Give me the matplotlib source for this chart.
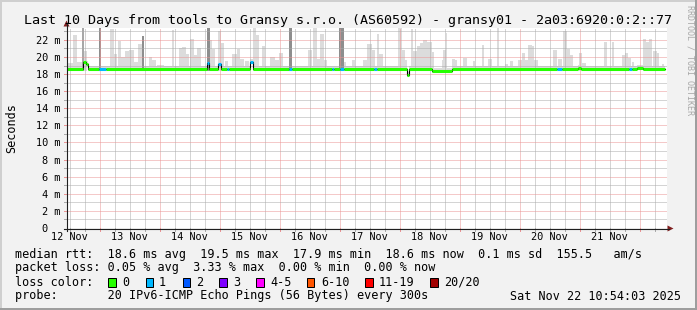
import matplotlib
matplotlib.use("Agg")
import matplotlib.pyplot as plt
import numpy as np
import pandas as pd
from matplotlib.patches import Rectangle, Polygon

# ---------------- data ----------------
window_start = pd.Timestamp("2025-11-12 10:54:03")
window_hours = 240.0
day_labels = ["12 Nov", "13 Nov", "14 Nov", "15 Nov", "16 Nov",
              "17 Nov", "18 Nov", "19 Nov", "20 Nov", "21 Nov"]
y_ticks = [0, 2, 4, 6, 8, 10, 12, 14, 16, 18, 20, 22]
y_tick_labels = ["0  ", "2 m", "4 m", "6 m", "8 m", "10 m", "12 m",
                 "14 m", "16 m", "18 m", "20 m", "22 m"]
y_max = 23.39

# median rtt (ms); hours since window start
median_base = 18.55
median_end = 239.0
median_seg_start = [6.4, 7.6, 12.8, 56.0, 60.4, 64.0, 73.2, 88.8, 106.0, 109.2,
                    122.8, 136.0, 146.0, 196.0, 204.4, 224.8, 228.0]
median_seg_end = [7.6, 8.4, 15.6, 56.8, 61.6, 64.8, 74.4, 90.0, 106.8, 110.8,
                  124.0, 136.8, 154.0, 198.0, 205.6, 226.0, 230.4]
median_seg_value = [19.45, 19.2, 18.55, 19.25, 19.2, 18.55, 19.45, 18.55, 18.55, 18.55,
                    18.55, 17.9, 18.35, 18.55, 18.7, 18.55, 18.75]
median_seg_loss = [0, 0, 1, 1, 1, 1, 1, 1, 1, 1, 1, 0, 0, 1, 0, 1, 0]

# smoke (ms)
smoke_floor = 18.35
smoke_band_below = 0.2
smoke_band_above = 0.35
spike_start = [0.4, 2.4, 4.0, 6.8, 17.2, 18.8, 20.4, 21.6, 23.2, 24.8, 26.8, 28.4, 32.8, 34.0,
               36.0, 42.0, 44.8, 46.0, 47.6, 49.2, 50.8, 52.0, 57.2, 58.0, 60.4, 61.6, 63.2,
               66.0, 68.0, 69.2, 71.2, 74.4, 75.6, 78.0, 81.2, 83.2, 84.8, 96.4, 98.4, 100.0,
               101.2, 102.8, 110.8, 114.0, 118.4, 120.0, 122.0, 124.0, 124.8, 128.0, 132.4,
               134.0, 135.2, 137.6, 138.4, 140.0, 141.2, 142.4, 144.0, 146.0, 150.0, 150.4,
               151.6, 154.0, 155.2, 157.2, 158.4, 162.4, 166.0, 168.4, 172.0, 175.2, 177.2,
               180.4, 182.0, 183.2, 184.4, 186.0, 186.8, 194.4, 196.4, 198.4, 200.0, 201.2,
               204.8, 206.0, 214.8, 218.0, 222.0, 223.2, 224.4, 226.0, 230.4, 231.6, 232.8,
               234.4, 236.0, 238.0]
spike_end = [2.4, 4.0, 6.0, 8.0, 18.8, 20.0, 21.6, 23.2, 24.8, 26.8, 28.4, 30.0, 34.0, 35.6,
             38.8, 42.8, 46.0, 47.6, 48.8, 50.8, 52.0, 53.6, 58.0, 59.2, 61.6, 62.8, 64.4,
             68.0, 69.2, 70.8, 72.8, 75.6, 76.8, 79.2, 83.2, 84.8, 86.4, 98.0, 100.0, 101.2,
             102.8, 104.0, 111.6, 115.2, 120.0, 122.0, 123.2, 124.8, 126.4, 129.2, 134.0,
             135.2, 136.0, 138.4, 140.0, 141.2, 142.4, 144.0, 146.0, 146.8, 150.4, 151.6,
             152.0, 155.2, 156.0, 158.4, 160.0, 163.2, 166.8, 170.0, 172.8, 176.4, 178.4,
             182.0, 183.2, 184.4, 186.0, 186.8, 188.4, 196.0, 198.0, 200.0, 201.2, 202.4,
             206.0, 207.6, 216.0, 218.8, 223.2, 224.4, 225.6, 226.8, 231.6, 232.8, 234.0,
             236.0, 236.8, 238.8]
spike_top = [19.3, 22.6, 19.4, 20.7, 23.3, 20.3, 21.9, 20.0, 20.7, 20.8, 19.4, 21.5, 20.0, 19.6,
             19.1, 23.2, 21.0, 21.2, 20.3, 22.1, 20.2, 21.0, 22.0, 20.9, 23.0, 21.6, 19.5,
             20.3, 20.9, 19.8, 19.5, 23.4, 22.6, 21.3, 20.0, 19.6, 20.5, 20.8, 23.4, 19.8,
             22.7, 19.7, 19.4, 19.6, 19.6, 21.5, 20.8, 22.7, 20.3, 19.0, 23.4, 20.8, 19.7,
             23.3, 20.7, 21.3, 21.6, 22.0, 21.8, 20.6, 19.6, 20.8, 22.8, 19.8, 19.6, 18.9,
             19.9, 19.5, 21.4, 19.8, 23.4, 19.2, 19.5, 19.7, 20.5, 19.6, 21.4, 21.3, 19.6,
             20.8, 19.8, 23.0, 20.9, 20.2, 20.5, 19.3, 21.7, 21.8, 20.2, 20.5, 19.9, 19.4,
             22.1, 21.8, 22.1, 20.7, 20.5, 19.2]
dark_start = [6.0, 12.8, 30.0, 56.0, 88.8, 108.8]
dark_end = [6.8, 13.6, 30.8, 57.2, 90.0, 110.8]
dark_top = [23.4, 23.4, 22.4, 23.4, 23.4, 23.4]

title = "Last 10 Days from tools to Gransy s.r.o. (AS60592) - gransy01 - 2a03:6920:0:2::77"
legend_rtt = "median rtt:  18.6 ms avg  19.5 ms max  17.9 ms min  18.6 ms now  0.1 ms sd  155.5   am/s"
legend_loss = "packet loss: 0.05 % avg  3.33 % max  0.00 % min  0.00 % now"
legend_probe = "probe:       20 IPv6-ICMP Echo Pings (56 Bytes) every 300s"
legend_date = "Sat Nov 22 10:54:03 2025"
loss_labels = ["0", "1", "2", "3", "4-5", "6-10", "11-19", "20/20"]
loss_colors = ["#26FF00", "#00B8FF", "#0059FF", "#7E00FF", "#FF00FF", "#FF5500", "#FF0000", "#A10000"]

# ---------------- drawing ----------------
W, H = 697, 310
MONO = "DejaVu Sans Mono"
fig = plt.figure(figsize=(W / 100, H / 100), dpi=100, facecolor="#F2F2F2")
L, T, PW, PH = 67, 28, 600, 200
ax = fig.add_axes([L / W, (H - T - PH) / H, PW / W, PH / H])
ax.set_facecolor("white")
ax.set_xlim(0, window_hours)
ax.set_ylim(0, y_max)
for s in ax.spines.values():
    s.set_visible(False)

# median pieces
segs = sorted(zip(median_seg_start, median_seg_end, median_seg_value, median_seg_loss))
pieces = []
cur = 0.0
for s0, e0, v0, l0 in segs:
    if s0 > cur:
        pieces.append((cur, s0, median_base, 0))
    pieces.append((s0, e0, v0, l0))
    cur = e0
if cur < median_end:
    pieces.append((cur, median_end, median_base, 0))
xs = np.array([p[0] for p in pieces] + [pieces[-1][1]])
ys = np.array([p[2] for p in pieces] + [pieces[-1][2]])

# smoke
smoke_c = "#DCDCDC"
ax.fill_between(xs, ys - smoke_band_below, ys + smoke_band_above, step="post",
                color=smoke_c, lw=0, zorder=1)
ss = np.array(spike_start); se = np.array(spike_end); st = np.array(spike_top)
ax.bar(ss, st - smoke_floor, width=se - ss, bottom=smoke_floor, align="edge",
       color=smoke_c, linewidth=0, zorder=1)
dark_shades = ["#A8A8A8", "#8E8E8E", "#8E8E8E", "#8E8E8E", "#8E8E8E", "#8E8E8E"]
ds = np.array(dark_start); de = np.array(dark_end); dt = np.array(dark_top)
ax.bar(ds, dt - smoke_floor, width=de - ds, bottom=smoke_floor, align="edge",
       color=dark_shades, linewidth=0, zorder=2)

# grid
hour = pd.Timedelta(hours=1)
end_ts = window_start + pd.Timedelta(hours=window_hours)
mids = [(m - window_start) / hour for m in pd.date_range(window_start.ceil("D"), end_ts, freq="D")]
sixes = [(m - window_start) / hour for m in pd.date_range(window_start.ceil("6h"), end_ts, freq="6h")]
noons = [(m - window_start) / hour for m in
         pd.date_range(window_start.floor("D") + pd.Timedelta(hours=12), end_ts, freq="D")]
noons = [n for n in noons if 0 <= n <= window_hours][:len(day_labels)]

grid_c = "#ABABAB"
mgrid_c = "#EB9595"
dot = (0, (1, 1))
for h in sixes:
    if min(abs(h - m) for m in mids) > 0.1:
        ax.axvline(h, color=grid_c, lw=0.72, ls=dot, zorder=4)
for h in mids:
    ax.axvline(h, color=mgrid_c, lw=0.72, ls=dot, zorder=4)
for yv in range(1, 24):
    if yv > y_max:
        break
    ax.axhline(yv, color=(mgrid_c if yv % 2 == 0 else grid_c), lw=0.72, ls=dot, zorder=4)

# median line
ax.step(xs, ys, where="post", color="black", lw=0.8, zorder=5)
for s0, e0, v0, l0 in pieces:
    ax.plot([s0, e0], [v0, v0], color=loss_colors[l0], lw=2.2,
            solid_capstyle="butt", zorder=6)

# ticks / labels
ax.set_xticks(noons, day_labels, fontsize=7.4, family=MONO)
ax.set_yticks(y_ticks, y_tick_labels, fontsize=7.4, family=MONO)
ax.tick_params(axis="both", length=0)
ax.tick_params(axis="x", pad=3.2)
ax.tick_params(axis="y", pad=5.0)

xt = ax.get_xaxis_transform()
for h in sixes:
    is_major = min(abs(h - m) for m in mids) < 0.1
    ax.plot([h, h], [0, -3 / PH], transform=xt, clip_on=False,
            color=(mgrid_c if is_major else grid_c), lw=0.72, zorder=7)
yt = ax.get_yaxis_transform()
for yv in range(1, 24):
    if yv > y_max:
        break
    ax.plot([-3 / PW, 0], [yv, yv], transform=yt, clip_on=False,
            color=(mgrid_c if yv % 2 == 0 else grid_c), lw=0.72, zorder=7)

# overlay in pixel coordinates
ov = fig.add_axes([0, 0, 1, 1])
ov.set_xlim(0, W)
ov.set_ylim(H, 0)
ov.axis("off")
ov.patch.set_alpha(0)

# frame
ov.add_patch(Rectangle((0, 0), W, 2, color="#CFCFCF", lw=0))
ov.add_patch(Rectangle((0, 0), 2, H, color="#CFCFCF", lw=0))
ov.add_patch(Rectangle((0, H - 2), W, 2, color="#9E9E9E", lw=0))
ov.add_patch(Rectangle((W - 2, 0), 2, H, color="#9E9E9E", lw=0))

# axes lines and arrows
axis_c = "#1F1F1F"
arrow_c = "#801F1F"
ov.plot([64, 669], [228.5, 228.5], color=axis_c, lw=0.8)
ov.plot([66.5, 66.5], [231, 24], color=axis_c, lw=0.8)
ov.add_patch(Polygon([[673.5, 228.5], [667.5, 225.5], [667.5, 231.5]], closed=True, color=arrow_c, lw=0))
ov.add_patch(Polygon([[66.5, 20.5], [63.5, 26.5], [69.5, 26.5]], closed=True, color=arrow_c, lw=0))

# texts
ov.text(W / 2, 24, title, ha="center", va="baseline", fontsize=9.6, family=MONO)
ov.text(11.5, 128, "Seconds", ha="center", va="center", rotation=90, fontsize=8.5, family=MONO)
ov.text(690, 5, "RRDTOOL / TOBI OETIKER", ha="center", va="top", rotation=270,
        fontsize=6.0, family=MONO, color="#A8A8A8")
ov.text(15, 258, legend_rtt, va="baseline", fontsize=8.5, family=MONO)
ov.text(15, 271.5, legend_loss, va="baseline", fontsize=8.5, family=MONO)
ov.text(15, 285.5, "loss color:", va="baseline", fontsize=8.5, family=MONO)
ov.text(15, 299.5, legend_probe, va="baseline", fontsize=8.5, family=MONO)
ov.text(680.5, 299.5, legend_date, ha="right", va="baseline", fontsize=8.5, family=MONO)

box_x = [108.3, 145.7, 182.7, 219.3, 256.0, 306.7, 365.0, 430.0]
lab_x = [122.3, 159.0, 196.0, 233.0, 270.0, 321.0, 379.0, 444.0]
for bx, tx, lab, col in zip(box_x, lab_x, loss_labels, loss_colors):
    ov.add_patch(Rectangle((bx, 278.3), 7.6, 8.2, facecolor=col, edgecolor="black", lw=0.72))
    ov.text(tx, 285.5, lab, va="baseline", fontsize=8.5, family=MONO)

fig.savefig("out.png", dpi=100, facecolor=fig.get_facecolor())
